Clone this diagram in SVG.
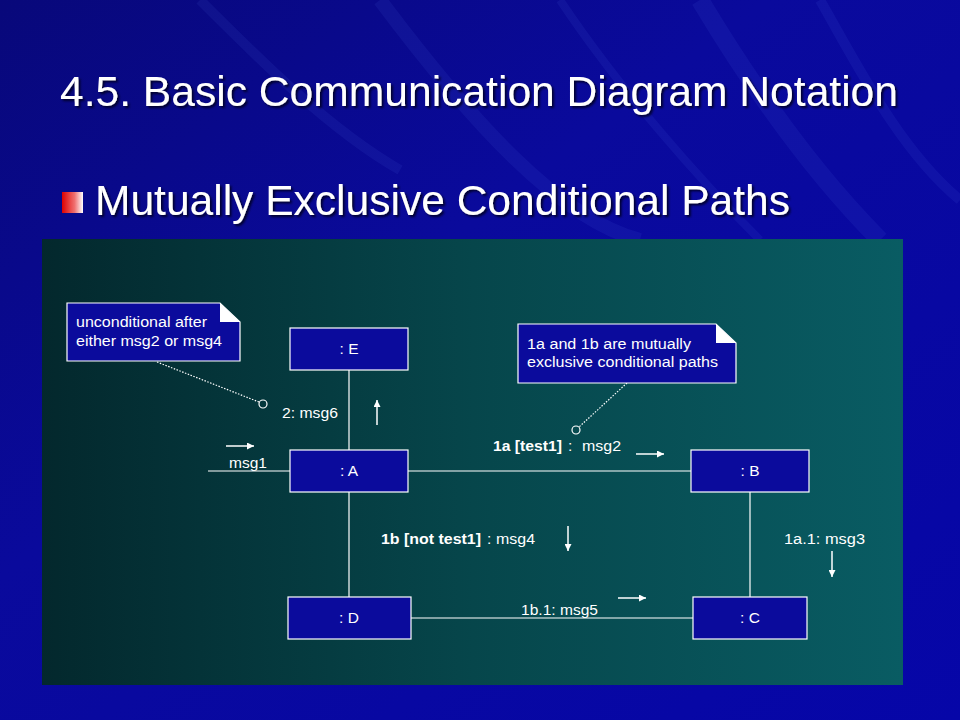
<svg xmlns="http://www.w3.org/2000/svg" width="960" height="720" viewBox="0 0 960 720">
<defs>
<linearGradient id="bg" x1="0" y1="0" x2="1" y2="1">
<stop offset="0" stop-color="#08087a"/>
<stop offset="0.4" stop-color="#0a0a9c"/>
<stop offset="1" stop-color="#0606a8"/>
</linearGradient>
<linearGradient id="panel" x1="0" y1="0" x2="1" y2="0">
<stop offset="0" stop-color="#03282d"/>
<stop offset="0.5" stop-color="#06464b"/>
<stop offset="1" stop-color="#095c63"/>
</linearGradient>
<linearGradient id="bullet" x1="0" y1="0" x2="1" y2="0">
<stop offset="0" stop-color="#e00000"/>
<stop offset="0.6" stop-color="#f07070"/>
<stop offset="1" stop-color="#ffffff"/>
</linearGradient>
<filter id="shadow" x="-5%" y="-20%" width="110%" height="150%">
<feDropShadow dx="2" dy="2" stdDeviation="0.8" flood-color="#000022" flood-opacity="0.9"/>
</filter>
<marker id="ah" viewBox="0 0 10 10" refX="10" refY="5" markerWidth="9" markerHeight="7" markerUnits="userSpaceOnUse" orient="auto">
<path d="M0,0 L10,5 L0,10 z" fill="#ffffff"/>
</marker>
<style>
.node rect{fill:#0b0b9c;stroke:#ffffff;stroke-width:1.2}
.t{font-family:"Liberation Sans",Arial,sans-serif;fill:#ffffff;font-size:15.5px}
.b{font-weight:bold}
.ln{stroke:#ffffff;stroke-width:1.2;fill:none}
.dot{stroke:#ffffff;stroke-width:1.2;stroke-dasharray:1.5 1.5;fill:none}
.arr{stroke:#ffffff;stroke-width:1.5;fill:none;marker-end:url(#ah)}
.note polygon.body{fill:#0b0b9c;stroke:#ffffff;stroke-width:1.2}
.note polygon.fold{fill:#ffffff}
.h{font-family:"Liberation Sans",Arial,sans-serif;font-size:42.5px;fill:#ffffff;filter:url(#shadow)}
</style>
</defs>
<rect width="960" height="720" fill="url(#bg)"/>
<g opacity="0.08" stroke="#6a8cff" fill="none">
<path d="M380,0 C470,120 560,220 640,240" stroke-width="14"/>
<path d="M560,0 C620,90 700,180 760,240" stroke-width="8"/>
<path d="M700,0 C760,100 820,180 880,240" stroke-width="18"/>
<path d="M820,0 C860,70 900,150 960,200" stroke-width="10"/>
<path d="M200,0 C260,60 330,130 400,170" stroke-width="10"/>
</g>
<g id="title">
<text class="h" x="60" y="106" textLength="838" lengthAdjust="spacingAndGlyphs">4.5. Basic Communication Diagram Notation</text>
</g>
<g id="subtitle">
<rect x="62" y="192" width="21" height="21" fill="url(#bullet)"/>
<text class="h" x="95" y="215" textLength="695" lengthAdjust="spacingAndGlyphs">Mutually Exclusive Conditional Paths</text>
</g>
<rect id="panel-bg" x="42" y="239" width="861" height="446" fill="url(#panel)"/>
<g id="connectors">
<line class="ln" x1="349" y1="370" x2="349" y2="450"/>
<line class="ln" x1="208" y1="471" x2="290" y2="471"/>
<line class="ln" x1="408" y1="471" x2="691" y2="471"/>
<line class="ln" x1="349" y1="492" x2="349" y2="597"/>
<line class="ln" x1="750" y1="492" x2="750" y2="597"/>
<line class="ln" x1="411" y1="618" x2="693" y2="618"/>
<line class="dot" x1="157" y1="362" x2="259" y2="402"/>
<circle cx="263" cy="404" r="4" class="ln"/>
<line class="dot" x1="627" y1="383" x2="579" y2="427"/>
<circle cx="576" cy="430" r="4" class="ln"/>
<line class="arr" x1="226" y1="446" x2="254" y2="446"/>
<line class="arr" x1="377" y1="425" x2="377" y2="400"/>
<line class="arr" x1="636" y1="454" x2="664" y2="454"/>
<line class="arr" x1="568" y1="526" x2="568" y2="551"/>
<line class="arr" x1="832" y1="551" x2="832" y2="577"/>
<line class="arr" x1="618" y1="598" x2="646" y2="598"/>
</g>
<g id="labels">
<text class="t" x="282" y="418" textLength="56" lengthAdjust="spacingAndGlyphs">2: msg6</text>
<text class="t" x="229" y="468" textLength="38" lengthAdjust="spacingAndGlyphs">msg1</text>
<text class="t" y="451"><tspan class="b" x="493" textLength="69" lengthAdjust="spacingAndGlyphs">1a [test1]</tspan><tspan x="568">:</tspan><tspan x="582" textLength="39" lengthAdjust="spacingAndGlyphs">msg2</tspan></text>
<text class="t" y="544"><tspan class="b" x="381" textLength="100" lengthAdjust="spacingAndGlyphs">1b [not test1]</tspan><tspan x="487">:</tspan><tspan x="496" textLength="39" lengthAdjust="spacingAndGlyphs">msg4</tspan></text>
<text class="t" x="784" y="544" textLength="81" lengthAdjust="spacingAndGlyphs">1a.1: msg3</text>
<text class="t" x="521" y="615" textLength="77" lengthAdjust="spacingAndGlyphs">1b.1: msg5</text>
</g>
<g id="note1" class="note">
<polygon class="body" points="67,303 220,303 240,322 240,361 67,361"/>
<polygon class="fold" points="220,303 220,322 240,322"/>
<text class="t" x="76" y="327" textLength="131" lengthAdjust="spacingAndGlyphs">unconditional after</text>
<text class="t" x="76" y="346" textLength="146" lengthAdjust="spacingAndGlyphs">either msg2 or msg4</text>
</g>
<g id="note2" class="note">
<polygon class="body" points="518,324 716,324 736,343 736,383 518,383"/>
<polygon class="fold" points="716,324 716,343 736,343"/>
<text class="t" x="527" y="349" textLength="164" lengthAdjust="spacingAndGlyphs">1a and 1b are mutually</text>
<text class="t" x="527" y="367" textLength="191" lengthAdjust="spacingAndGlyphs">exclusive conditional paths</text>
</g>
<g id="nodeE" class="node">
<rect x="290" y="328" width="118" height="42"/>
<text class="t" x="349" y="354" text-anchor="middle">: E</text>
</g>
<g id="nodeA" class="node">
<rect x="290" y="450" width="118" height="42"/>
<text class="t" x="349" y="476" text-anchor="middle">: A</text>
</g>
<g id="nodeB" class="node">
<rect x="691" y="450" width="118" height="42"/>
<text class="t" x="750" y="476" text-anchor="middle">: B</text>
</g>
<g id="nodeD" class="node">
<rect x="288" y="597" width="123" height="42"/>
<text class="t" x="349" y="623" text-anchor="middle">: D</text>
</g>
<g id="nodeC" class="node">
<rect x="693" y="597" width="114" height="42"/>
<text class="t" x="750" y="623" text-anchor="middle">: C</text>
</g>
</svg>
